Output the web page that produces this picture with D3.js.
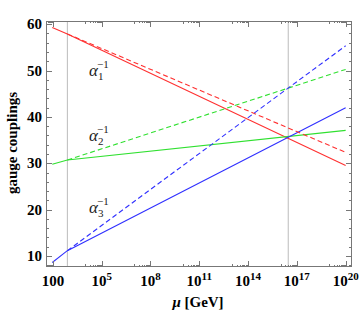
<!DOCTYPE html>
<html><head><meta charset="utf-8">
<script src="https://cdn.jsdelivr.net/npm/d3@7"></script>
<style>body{margin:0;background:#fff}svg{display:block}</style>
</head><body>
<script>
// ---- data (x in log10(mu/GeV)) ----
const xStart = 1.96, xSusy = 2.89, xGut = 16.47, xEnd = 20;
const xKnots = [xStart, xSusy, xEnd];
const alpha1Solid = [59.3, 57.9, 29.5];
const alpha2Solid = [29.8, 30.7, 37.1];
const alpha3Solid = [8.6, 11.15, 42.0];
const dashX = [xSusy, xEnd];
const alpha1Dashed = [57.9, 32.35];
const alpha2Dashed = [30.7, 50.25];
const alpha3Dashed = [11.15, 55.35];
const vLines = [xSusy, xGut];
const yTicks = [10, 20, 30, 40, 50, 60];
const xTickExps = [2, 5, 8, 11, 14, 17, 20];
const labels = [{i:"1", y:48.9}, {i:"2", y:34.9}, {i:"3", y:19.2}];

const W = 361, H = 316;
const L = 46, R = 352, T = 21, B = 267;
const svg = d3.select("body").append("svg").attr("width", W).attr("height", H);
const x = d3.scaleLinear().domain([1.576, 20.39]).range([L, R]);
const y = d3.scaleLinear().domain([7.63, 60.69]).range([B, T]);

// vertical lines
svg.selectAll(".vl").data(vLines).enter().append("line")
  .attr("x1", d => x(d)).attr("x2", d => x(d)).attr("y1", T).attr("y2", B)
  .attr("stroke", "#bbbbbb").attr("stroke-width", 1);

const line = d3.line().x(d => x(d[0])).y(d => y(d[1]));
const series = [
  {xs: xKnots, ys: alpha1Solid, c: "#ff3030", dash: null},
  {xs: xKnots, ys: alpha2Solid, c: "#30e030", dash: null},
  {xs: xKnots, ys: alpha3Solid, c: "#3030ff", dash: null},
  {xs: dashX, ys: alpha1Dashed, c: "#ff3030", dash: "5,3"},
  {xs: dashX, ys: alpha2Dashed, c: "#30e030", dash: "5,3"},
  {xs: dashX, ys: alpha3Dashed, c: "#3030ff", dash: "5,3"}
];
series.forEach(s => {
  svg.append("path").attr("d", line(s.xs.map((v, i) => [v, s.ys[i]])))
    .attr("fill", "none").attr("stroke", s.c).attr("stroke-width", 1.1)
    .attr("stroke-dasharray", s.dash);
});

// frame
const fc = "#777";
svg.append("rect").attr("x", L + 0.5).attr("y", T + 0.5).attr("width", R - L - 1).attr("height", B - T - 1)
  .attr("fill", "none").attr("stroke", fc).attr("stroke-width", 1);

// y ticks
const yMinor = d3.range(8, 61, 2).filter(v => v % 10 !== 0);
const tk = svg.append("g").attr("stroke", fc).attr("stroke-width", 1);
yTicks.forEach(v => {
  const yy = Math.round(y(v)) + 0.5;
  tk.append("line").attr("x1", L).attr("x2", L + 6).attr("y1", yy).attr("y2", yy);
  tk.append("line").attr("x1", R).attr("x2", R - 6).attr("y1", yy).attr("y2", yy);
});
yMinor.forEach(v => {
  const yy = Math.round(y(v)) + 0.5;
  tk.append("line").attr("x1", L).attr("x2", L + 3).attr("y1", yy).attr("y2", yy);
  tk.append("line").attr("x1", R).attr("x2", R - 3).attr("y1", yy).attr("y2", yy);
});
// x ticks
xTickExps.forEach(e => {
  const xx = Math.round(x(e)) + 0.5;
  tk.append("line").attr("x1", xx).attr("x2", xx).attr("y1", B).attr("y2", B - 6);
  tk.append("line").attr("x1", xx).attr("x2", xx).attr("y1", T).attr("y2", T + 6);
  for (let m = 1; m <= 9; m++) {
    const lv = e - 1 + Math.log10(m);
    if (x(lv) < L + 1) continue;
    const mx = Math.round(x(lv)) + 0.5;
    const len = m === 1 ? 3 : 2;
    tk.append("line").attr("x1", mx).attr("x2", mx).attr("y1", B).attr("y2", B - len);
    tk.append("line").attr("x1", mx).attr("x2", mx).attr("y1", T).attr("y2", T + len);
  }
});

const serif = "'Liberation Serif','Times New Roman',serif";
// y tick labels
svg.selectAll(".yl").data(yTicks).enter().append("text")
  .attr("x", L - 4).attr("y", d => y(d) + 5)
  .attr("text-anchor", "end").attr("font-family", serif).attr("font-weight", "bold")
  .attr("font-size", 15).attr("fill", "#000").text(d => d);
// x tick labels
xTickExps.forEach(e => {
  const t = svg.append("text").attr("x", x(e)).attr("y", 286)
    .attr("text-anchor", "middle").attr("font-family", serif).attr("font-weight", "bold")
    .attr("font-size", 15).attr("fill", "#000");
  if (e === 2) { t.text("100"); }
  else {
    t.append("tspan").text("10");
    t.append("tspan").attr("dy", -6).attr("font-size", 11).text(e);
  }
});
// axis titles
svg.append("text").attr("x", 198).attr("y", 307).attr("text-anchor", "middle")
  .attr("font-family", serif).attr("font-weight", "bold").attr("font-size", 15).attr("fill", "#000")
  .call(t => { t.append("tspan").attr("font-style", "italic").text("μ"); t.append("tspan").text(" [GeV]"); });
svg.append("text").attr("transform", "translate(17,143) rotate(-90)").attr("text-anchor", "middle")
  .attr("font-family", serif).attr("font-weight", "bold").attr("font-size", 15).attr("fill", "#000")
  .text("gauge couplings");

// alpha labels
labels.forEach(l => {
  const by = y(l.y);
  const g = svg.append("g").attr("font-family", serif).attr("fill", "#222");
  g.append("text").attr("x", 89).attr("y", by).attr("font-size", 17).attr("font-style", "italic").text("α");
  g.append("text").attr("x", 98).attr("y", by + 4).attr("font-size", 11).text(l.i);
  g.append("text").attr("x", 97).attr("y", by - 8).attr("font-size", 11).text("−1");
});
</script>
</body></html>
